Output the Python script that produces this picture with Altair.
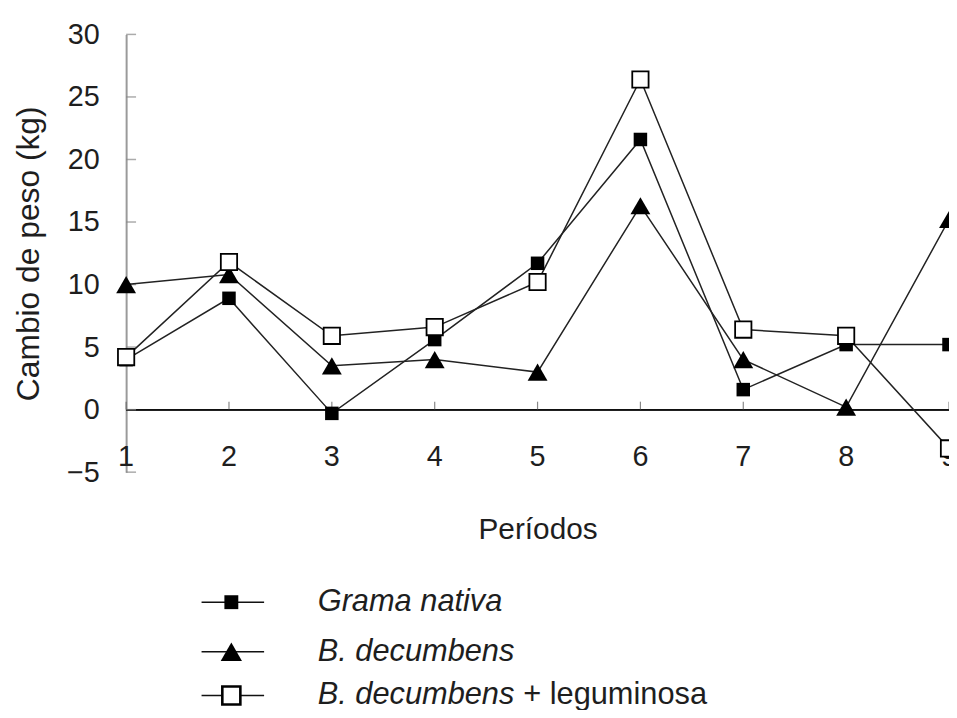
import altair as alt
import pandas as pd

periods = [1, 2, 3, 4, 5, 6, 7, 8, 9]
grama_nativa = [4.0, 8.9, -0.3, 5.6, 11.7, 21.6, 1.6, 5.2, 5.2]
b_decumbens = [10.0, 10.8, 3.5, 4.0, 3.0, 16.3, 4.0, 0.2, 15.2]
b_dec_leguminosa = [4.2, 11.8, 5.9, 6.6, 10.2, 26.4, 6.4, 5.9, -3.1]
y_ticks = [-5, 0, 5, 10, 15, 20, 25, 30]
series_names = ["Grama nativa", "B. decumbens", "B. decumbens + leguminosa"]

rows = []
for name, vals in zip(series_names, [grama_nativa, b_decumbens, b_dec_leguminosa]):
    for p, v in zip(periods, vals):
        rows.append({"periodo": p, "cambio": v, "serie": name})
df = pd.DataFrame(rows)
df_p = pd.DataFrame({"periodo": periods})
df_t = pd.DataFrame({"tick": y_ticks})

W, H = 829, 441
FONT = "Liberation Sans"
INK = "#1e1e1e"

xs = alt.Scale(domain=[1, 9], nice=False, zero=False)
ys = alt.Scale(domain=[-5, 30], nice=False, zero=False)

base = alt.Chart(df)

x_enc = alt.X("periodo:Q", scale=xs, axis=alt.Axis(
    title="Períodos", domain=False, ticks=False, labels=False, grid=False,
    titleFont=FONT, titleFontSize=30, titleFontWeight="normal", titleColor=INK,
    titlePadding=43))
y_enc = alt.Y("cambio:Q", scale=ys, axis=alt.Axis(
    title="Cambio de peso (kg)", values=y_ticks, grid=False, ticks=False,
    domainColor="#9a9a9a", domainWidth=2, labelFont=FONT, labelFontSize=29,
    labelColor=INK, labelPadding=27, titleFont=FONT, titleFontSize=32,
    titleFontWeight="normal", titleColor=INK, titlePadding=21))

lines = base.mark_line(color="#222", strokeWidth=1.5).encode(
    x=x_enc, y=y_enc, detail="serie:N")

zero_line = alt.Chart(df_p).mark_rule(color="#111", strokeWidth=1.5).encode(
    y=alt.datum(0, scale=ys), x=alt.value(0), x2=alt.value(W))

x_ticks = alt.Chart(df_p).mark_tick(orient="vertical", color="#555", size=8,
                                    thickness=1.2, yOffset=-4).encode(
    x=alt.X("periodo:Q", scale=xs), y=alt.datum(0, scale=ys))

y_tick_marks = alt.Chart(df_t).mark_tick(orient="horizontal", color="#888",
                                         size=10, thickness=1.5, xOffset=5).encode(
    y=alt.Y("tick:Q", scale=ys), x=alt.datum(1, scale=xs))

x_labels = alt.Chart(df_p).mark_text(font=FONT, fontSize=29, color=INK,
                                     baseline="bottom", dy=0).encode(
    x=alt.X("periodo:Q", scale=xs), y=alt.datum(-5, scale=ys),
    text="periodo:Q")

pts_grama = base.transform_filter(alt.datum.serie == series_names[0]).mark_point(
    shape="square", filled=True, color="#000", size=185, opacity=1).encode(
    x=alt.X("periodo:Q", scale=xs), y=alt.Y("cambio:Q", scale=ys))
pts_bdec = base.transform_filter(alt.datum.serie == series_names[1]).mark_point(
    shape="triangle-up", filled=True, color="#000", size=400, opacity=1).encode(
    x=alt.X("periodo:Q", scale=xs), y=alt.Y("cambio:Q", scale=ys))
pts_leg = base.transform_filter(alt.datum.serie == series_names[2]).mark_point(
    shape="square", filled=True, fill="white", stroke="#000", strokeWidth=1.8,
    size=270, opacity=1).encode(
    x=alt.X("periodo:Q", scale=xs), y=alt.Y("cambio:Q", scale=ys))

# manual legend (below plot)
LX1, LX2, LMX, LTX = 76, 139, 106, 193
ROWS_Y = [572, 622, 666]
leg = []
shapes = [("square", True, 196), ("triangle-up", True, 460), ("square", False, 330)]
one = df_p.head(1)
for i, (shp, filled, sz) in enumerate(shapes):
    yv = ROWS_Y[i]
    leg.append(alt.Chart(one).mark_rule(color="#111", strokeWidth=1.6).encode(
        x=alt.value(LX1), x2=alt.value(LX2), y=alt.value(yv)))
    if filled:
        leg.append(alt.Chart(one).mark_point(
            shape=shp, filled=True, color="#000", size=sz, opacity=1).encode(
            x=alt.value(LMX), y=alt.value(yv)))
    else:
        leg.append(alt.Chart(one).mark_point(
            shape=shp, filled=True, fill="white", stroke="#000", strokeWidth=2.6,
            size=sz, opacity=1).encode(x=alt.value(LMX), y=alt.value(yv)))

legend_text_italic = ["Grama nativa", "B. decumbens", "B. decumbens"]
for i, t in enumerate(legend_text_italic):
    leg.append(alt.Chart(one).mark_text(
        text=t, font=FONT, fontSize=31, fontStyle="italic", color=INK,
        align="left", baseline="middle").encode(
        x=alt.value(LTX), y=alt.value(ROWS_Y[i])))
leg.append(alt.Chart(one).mark_text(
    text="+ leguminosa", font=FONT, fontSize=31, color=INK,
    align="left", baseline="middle").encode(
    x=alt.value(LTX + 207), y=alt.value(ROWS_Y[2])))

chart = alt.layer(
    zero_line, x_ticks, y_tick_marks, lines, x_labels,
    pts_grama, pts_bdec, pts_leg, *leg
).properties(
    width=W, height=H,
    autosize=alt.AutoSizeParams(type="none"),
    padding={"left": 119, "top": 24, "right": 0, "bottom": 237},
).configure_view(stroke=None)

chart.save("out.html", embed_options={"renderer": "svg", "actions": False})
